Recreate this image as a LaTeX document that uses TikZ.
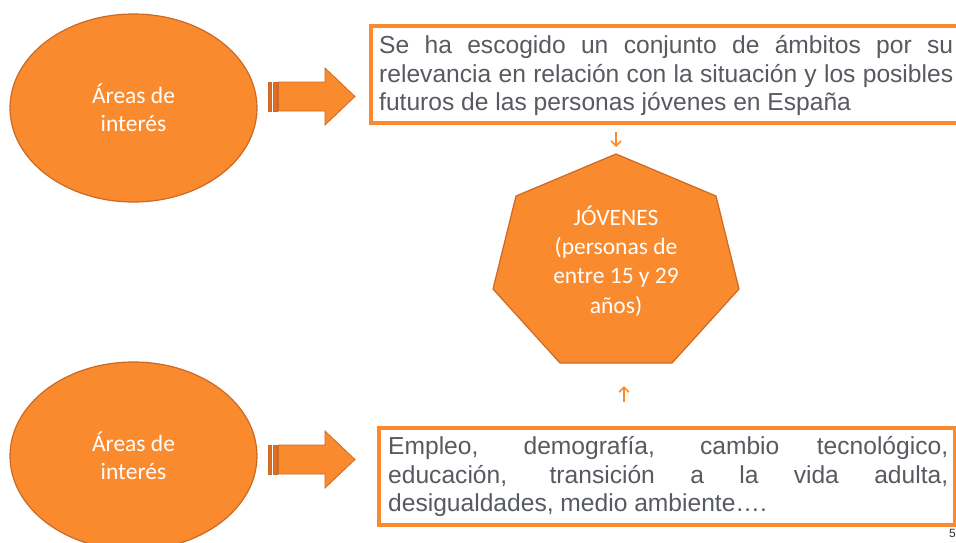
\documentclass[tikz,border=0pt]{standalone}
\usepackage{fontspec}
\newfontfamily\carl{Carlito}
\newfontfamily\arialf{Liberation Sans}
\usetikzlibrary{shapes.geometric,arrows.meta}
\definecolor{orangefill}{RGB}{250,138,46}
\definecolor{orangeline}{RGB}{205,105,35}
\definecolor{orangedark}{RGB}{222,108,34}
\definecolor{textgray}{RGB}{87,90,96}
\begin{document}
\begin{tikzpicture}[x=1pt,y=-1pt,
  bubble/.style={ellipse, fill=orangefill, draw=orangeline, line width=1.2pt, minimum width=247pt, minimum height=188pt, inner sep=0pt, text=white, align=center, font=\carl\fontsize{23.5}{28.5}\selectfont},
  infobox/.style={draw=orangefill, line width=4pt, fill=white, inner sep=0pt, anchor=north west},
  boxline/.style={anchor=base west, inner sep=0pt, text=textgray, font=\arialf\fontsize{24.6}{28.3}\selectfont},
  blockarrow/.style={fill=orangefill, draw=orangeline, line width=0.8pt, line join=miter},
  stripe/.style={fill=orangedark, draw=orangeline, line width=0.8pt},
  heptagon/.style={fill=orangefill, draw=orangeline, line width=1.2pt, line join=miter},
  heptext/.style={text=white, align=center, inner sep=0pt, font=\carl\fontsize{23.5}{29.3}\selectfont},
  smallarrow/.style={draw=orangefill, line width=1.6pt, -{Straight Barb[length=5pt,width=10pt]}},
  stripedarrow/.pic={
    \filldraw[stripe] (0,-14.5) rectangle (3.5,14.5);
    \filldraw[stripe] (5,-14.5) rectangle (9,14.5);
    \filldraw[blockarrow] (10.5,-14.5) -- (57,-14.5) -- (57,-28.5) -- (87,0) -- (57,28.5) -- (57,14.5) -- (10.5,14.5) -- cycle;
  }
]
\useasboundingbox (0,0) rectangle (956,542);
\clip (0,0) rectangle (956,542);

% ellipses
\node[bubble] (area1) at (133.5,108) {Áreas de\\interés};
\node[bubble] (area2) at (133.5,456) {Áreas de\\interés};

% block arrows
\pic at (268,96.5) {stripedarrow};
\pic at (268,459.5) {stripedarrow};

% top box
\node[infobox, minimum width=593pt, minimum height=97pt] (box1) at (369,24) {};
\node[boxline] (b1l1) at (379,53.5) {\makebox[574pt][s]{Se ha escogido un conjunto de ámbitos por su}};
\node[boxline] (b1l2) at (379,82) {\makebox[574pt][s]{relevancia en relación con la situación y los posibles}};
\node[boxline] (b1l3) at (379,110.5) {futuros de las personas jóvenes en España};

% bottom box
\node[infobox, minimum width=576pt, minimum height=97pt] (box2) at (377,426) {};
\node[boxline] (b2l1) at (388,454.5) {\makebox[560pt][s]{Empleo, demografía, cambio tecnológico,}};
\node[boxline] (b2l2) at (388,483) {\makebox[560pt][s]{educación, transición a la vida adulta,}};
\node[boxline] (b2l3) at (388,511.5) {desigualdades, medio ambiente….};

% heptagon
\coordinate (h1) at (616,154);
\coordinate (h2) at (716,196);
\coordinate (h3) at (739,289);
\coordinate (h4) at (672,363);
\coordinate (h5) at (560,363);
\coordinate (h6) at (493,289);
\coordinate (h7) at (516,196);
\filldraw[heptagon] (h1) -- (h2) -- (h3) -- (h4) -- (h5) -- (h6) -- (h7) -- cycle;
\node[heptext] (hep) at (616,261) {JÓVENES\\(personas de\\entre 15 y 29\\años)};

% small arrows
\coordinate (a1s) at (616,132);
\coordinate (a1e) at (616,147);
\draw[smallarrow] (a1s) -- (a1e);
\coordinate (a2s) at (624,402);
\coordinate (a2e) at (624,386);
\draw[smallarrow] (a2s) -- (a2e);

% page number
\node[anchor=base west, inner sep=0pt, font=\arialf\fontsize{12}{14}\selectfont, text=black!80] (pg) at (949,537) {5};
\end{tikzpicture}
\end{document}
